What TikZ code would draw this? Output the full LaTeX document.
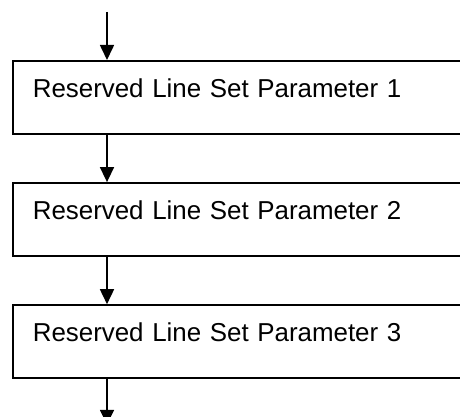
\documentclass[tikz,border=0pt]{standalone}
\usepackage{fontspec}
\setmainfont{Liberation Sans}
\usetikzlibrary{arrows.meta,positioning}
\definecolor{rlInk}{HTML}{000000}
\tikzset{
  rlbox/.style={rectangle,draw=rlInk,line width=1.6pt,fill=white,text=rlInk,font=\fontsize{25.9}{30}\selectfont,align=left,inner xsep=20pt,inner ysep=0pt,text width=409pt,text height=36.5pt,text depth=36.5pt},
  rllink/.style={-{Triangle[length=15pt,width=14pt]},draw=rlInk,line width=1.6pt}
}
\begin{document}
\begin{tikzpicture}[x=1pt,y=1pt,node distance=47.5pt]
\useasboundingbox (0,0) rectangle (460,416);

% ---- PARAMETER BOXES ----
\node[rlbox, anchor=north west] (p1) at (12,356) {Reserved Line Set Parameter 1};
\node[rlbox, below=of p1] (p2) {Reserved Line Set Parameter 2};
\node[rlbox, below=of p2] (p3) {Reserved Line Set Parameter 3};

% ---- IN / OUT ----
\coordinate[above=48pt of p1.north west, xshift=95pt] (in);
\coordinate[below=46pt of p3.south west, xshift=95pt] (out);

% ---- LINKS ----
\draw[rllink] (in) -- ([xshift=95pt]p1.north west);
\draw[rllink] ([xshift=95pt]p1.south west) -- ([xshift=95pt]p2.north west);
\draw[rllink] ([xshift=95pt]p2.south west) -- ([xshift=95pt]p3.north west);
\draw[rllink] ([xshift=95pt]p3.south west) -- (out);

\end{tikzpicture}
\end{document}
